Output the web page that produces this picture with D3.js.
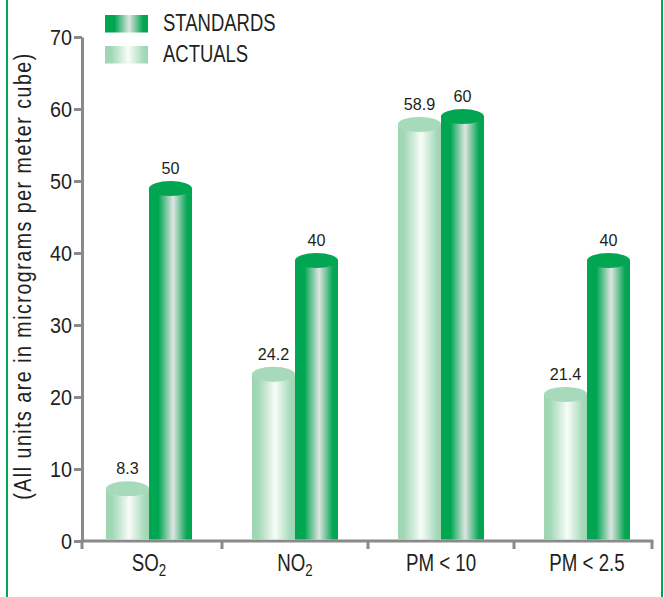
<!DOCTYPE html>
<html>
<head>
<meta charset="utf-8">
<script src="https://cdn.jsdelivr.net/npm/d3@7"></script>
<style>
  html, body { margin: 0; padding: 0; background: #fff; }
  svg { display: block; }
  text { font-family: "Liberation Sans", Arial, sans-serif; fill: #231f20; }
</style>
</head>
<body>
<svg id="chart" width="664" height="597"></svg>
<script>
// ---- data ----
const categories = ["SO2", "NO2", "PM<10", "PM<2.5"];
const actuals    = [8.3, 24.2, 58.9, 21.4];
const standards  = [50, 40, 60, 40];
const yTicks     = [0, 10, 20, 30, 40, 50, 60, 70];
const seriesNames = ["STANDARDS", "ACTUALS"];
const yTitle = "(All units are in micrograms per meter cube)";

const svg = d3.select("#chart");
const W = 664, H = 597;

// frame lines
svg.append("line").attr("x1", 7).attr("x2", 7).attr("y1", 0).attr("y2", H)
  .attr("stroke", "#00a651").attr("stroke-width", 2);
svg.append("line").attr("x1", 662).attr("x2", 662).attr("y1", 0).attr("y2", H)
  .attr("stroke", "#00a651").attr("stroke-width", 2);

// gradients
const defs = svg.append("defs");
function grad(id, stops) {
  const g = defs.append("linearGradient").attr("id", id)
    .attr("x1", "0%").attr("x2", "100%").attr("y1", "0%").attr("y2", "0%");
  stops.forEach(s => g.append("stop").attr("offset", s[0]).attr("stop-color", s[1]));
}
grad("gStd", [["0%", "#00a651"], ["22%", "#00a651"], ["56%", "#e0e4e1"], ["88%", "#06a655"], ["100%", "#00a651"]]);
grad("gAct", [["0%", "#a0d5b4"], ["15%", "#a3d8b7"], ["54%", "#f8fcf9"], ["90%", "#a5d9b9"], ["100%", "#a0d5b4"]]);

// condensed text helper (horizontal squeeze of a real text element)
function ctext(parent, x, y, sx, size, anchor, extraTransform) {
  const g = parent.append("g")
    .attr("transform", `translate(${x},${y})` + (extraTransform || "") + ` scale(${sx},1)`);
  return g.append("text").attr("x", 0).attr("y", 0)
    .attr("text-anchor", anchor).style("font-size", size + "px");
}

// scales
const y = d3.scaleLinear().domain([0, 70]).range([541, 37]);
const x = d3.scaleBand().domain(categories).range([76, 660]).paddingInner(0).paddingOuter(0);
const barW = 43;
const ry = 7.5;
const axisColor = "#8a8a8a";

// y axis
const yAxis = svg.append("g").attr("transform", "translate(82,0)")
  .call(d3.axisLeft(y).tickValues(yTicks).tickSize(8).tickSizeOuter(0).tickPadding(2).tickFormat(d3.format("d")));
yAxis.select(".domain").attr("stroke", axisColor).attr("stroke-width", 3);
yAxis.selectAll(".tick line").attr("stroke", axisColor).attr("stroke-width", 3);
yAxis.selectAll(".tick text").style("font-size", "22px")
  .style("font-family", "'Liberation Sans', Arial, sans-serif").attr("fill", "#231f20")
  .attr("transform", function() { return `translate(${+d3.select(this).attr("x")},0) scale(0.9,1) translate(${-d3.select(this).attr("x")},0)`; });

// x axis line + ticks
const x0 = 80.5, x1 = 653.5, yb = y(0);
svg.append("line").attr("x1", x0).attr("x2", x1).attr("y1", yb).attr("y2", yb)
  .attr("stroke", axisColor).attr("stroke-width", 3);
const xTickPos = [82].concat(categories.slice(1).map(c => x(c))).concat([652]);
svg.selectAll(".xtick").data(xTickPos).enter().append("line")
  .attr("x1", d => d).attr("x2", d => d).attr("y1", yb).attr("y2", yb + 8)
  .attr("stroke", axisColor).attr("stroke-width", 3);

// x labels
categories.forEach(d => {
  const t = ctext(svg, x(d) + x.bandwidth() / 2, 571, 0.78, 24, "middle");
  const m = d.match(/^([A-Z]+)(\d)$/);
  if (m) {
    t.append("tspan").text(m[1]);
    t.append("tspan").text(m[2]).attr("dy", 5).style("font-size", "17px");
  } else {
    t.text(d.replace("<", " < "));
  }
});

// bars
function cylinder(cx, v, fillId, topColor) {
  const g = svg.append("g");
  const yt = y(v) + ry;
  g.append("rect").attr("x", cx).attr("y", yt).attr("width", barW).attr("height", yb - 1.5 - yt)
    .attr("fill", `url(#${fillId})`);
  g.append("ellipse").attr("cx", cx + barW / 2).attr("cy", yt).attr("rx", barW / 2).attr("ry", ry)
    .attr("fill", topColor);
}
categories.forEach((c, i) => {
  const cx = x(c) + x.bandwidth() / 2;
  cylinder(cx - barW, actuals[i], "gAct", "#a6dabb");
  cylinder(cx, standards[i], "gStd", "#02a552");
  ctext(svg, cx - barW / 2, y(actuals[i]) - 7, 0.95, 17, "middle").text(actuals[i]);
  ctext(svg, cx + barW / 2, y(standards[i]) - 7, 0.95, 17, "middle").text(standards[i]);
});

// y title
ctext(svg, 31, 276, 0.82, 24, "middle", " rotate(-90)")
  .style("letter-spacing", "1.8px").text(yTitle);

// legend
const legend = svg.append("g");
const lg = [["gStd", 15, 31], ["gAct", 46, 62]];
seriesNames.forEach((name, i) => {
  legend.append("rect").attr("x", 105).attr("y", lg[i][1]).attr("width", 43).attr("height", 17.5)
    .attr("fill", `url(#${lg[i][0]})`);
  ctext(legend, 163, lg[i][2], 0.77, 24, "start").text(name);
});
</script>
</body>
</html>
